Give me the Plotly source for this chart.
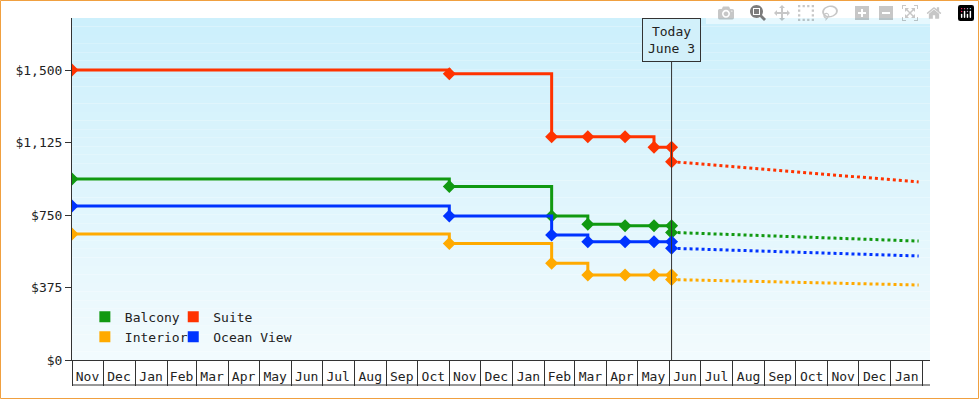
import plotly.graph_objects as go

# price history (step changes) per cabin type
change_dates = ["2022-11-01", "2023-11-01", "2024-02-08", "2024-03-14", "2024-04-19", "2024-05-17", "2024-06-03"]
balcony = [936, 897, 745, 702, 695, 695, 695]
suite = [1500, 1480, 1155, 1155, 1155, 1100, 1100]
ocean_view = [797, 745, 647, 612, 612, 612, 612]
interior = [652, 603, 500, 440, 440, 440, 440]

# price right after today, and projection at the end
today = "2024-06-03"
proj_end = "2025-01-28"
balcony_now, balcony_proj = 660, 615
suite_now, suite_proj = 1026, 921
ocean_now, ocean_proj = 578, 538
interior_now, interior_proj = 416, 388

series = [
    ("Balcony", "#119911", balcony, balcony_now, balcony_proj, "legend"),
    ("Suite", "#ff3300", suite, suite_now, suite_proj, "legend2"),
    ("Interior", "#ffaa00", interior, interior_now, interior_proj, "legend"),
    ("Ocean View", "#0033ff", ocean_view, ocean_now, ocean_proj, "legend2"),
]

fig = go.Figure()

for name, color, vals, now, proj, leg in series:
    xs = change_dates + [today]
    ys = vals + [now]
    fig.add_trace(go.Scatter(x=xs, y=ys, mode="lines+markers", line_shape="hv",
                             line=dict(color=color, width=3),
                             marker=dict(symbol="diamond", size=10, color=color),
                             showlegend=False, hoverinfo="skip"))
    fig.add_trace(go.Scatter(x=[today, proj_end], y=[now, proj], mode="lines",
                             line=dict(color=color, width=3, dash="dot"),
                             showlegend=False, hoverinfo="skip"))
    fig.add_trace(go.Scatter(x=[None], y=[None], mode="markers", name=name, legend=leg,
                             marker=dict(symbol="square", size=11, color=color)))

# empty trace on the overlay axis that draws the month cell separators
fig.add_trace(go.Scatter(x=[None], y=[None], xaxis="x2", showlegend=False, hoverinfo="skip"))

# gradient background
shapes = []
n = 40
top = (205, 240, 252)
bot = (242, 251, 254)
for i in range(n):
    t = i / (n - 1)
    c = tuple(int(top[k] + (bot[k] - top[k]) * t) for k in range(3))
    shapes.append(dict(type="rect", xref="paper", yref="paper", x0=0, x1=1,
                       y0=1 - (i + 1) / n, y1=1 - i / n, fillcolor="rgb(%d,%d,%d)" % c,
                       line_width=0, layer="below"))

W, H = 980, 400
ml, mr, mt, mb = 72, 50, 18, 40
pw, ph = W - ml - mr, H - mt - mb
shapes.append(dict(type="rect", xref="paper", yref="paper",
                   x0=-(ml - 0.5) / pw, x1=1 + (mr - 1.5) / pw,
                   y0=-(mb - 1.5) / ph, y1=1 + (mt - 0.5) / ph,
                   line=dict(color="#f0a040", width=1)))
shapes.append(dict(type="line", xref="paper", yref="paper", x0=0, x1=1,
                   y0=-25 / ph, y1=-25 / ph, line=dict(color="#333", width=1)))
shapes.append(dict(type="line", xref="x", yref="paper", x0=today, x1=today,
                   y0=0, y1=(ph - 42 + mt) / ph, line=dict(color="#333", width=1)))

font = "DejaVu Sans Mono"
xrange = ["2022-11-01", "2025-02-08"]
fig.update_layout(
    width=W, height=H, margin=dict(l=ml, r=mr, t=mt, b=mb),
    paper_bgcolor="white", plot_bgcolor="rgba(0,0,0,0)",
    font=dict(family=font, size=13, color="#222"),
    shapes=shapes,
    legend=dict(x=0.015, y=0.17, xanchor="left", yanchor="top", bgcolor="rgba(0,0,0,0)",
                font=dict(size=13), itemwidth=30, tracegroupgap=0),
    legend2=dict(x=0.118, y=0.17, xanchor="left", yanchor="top", bgcolor="rgba(0,0,0,0)",
                 font=dict(size=13), itemwidth=30, tracegroupgap=0),
    annotations=[dict(x=today, y=1, xref="x", yref="paper", yanchor="top",
                      text="Today<br>June 3", showarrow=False, bordercolor="#333",
                      borderwidth=1, borderpad=5, bgcolor="rgba(210,240,250,1)",
                      font=dict(size=13), yshift=0)],
    xaxis2=dict(type="date", range=xrange, dtick="M1", tick0="2022-11-01", overlaying="x",
                side="bottom", anchor="y", ticks="outside", ticklen=25, tickcolor="#333",
                showticklabels=False, showgrid=False, showline=False, zeroline=False),
)
fig.update_xaxes(selector=dict(anchor="y", overlaying=None))
fig.layout.xaxis.update(type="date", range=xrange, dtick="M1", tick0="2022-11-01",
                        tickformat="%b", ticklabelmode="period", ticks="",
                        showgrid=False, showline=True, linecolor="#333",
                        zeroline=False, tickfont=dict(size=13), ticklabelstandoff=4)
fig.update_yaxes(range=[0, 1769], tickvals=[0, 375, 750, 1125, 1500],
                 ticktext=["$0", "$375", "$750", "$1,125", "$1,500"], ticks="outside",
                 ticklen=6, tickcolor="#333", showgrid=False, showline=True,
                 linecolor="#333", linewidth=1, zeroline=False)

fig.write_html("out.html", post_script="document.body.style.margin='0';")
